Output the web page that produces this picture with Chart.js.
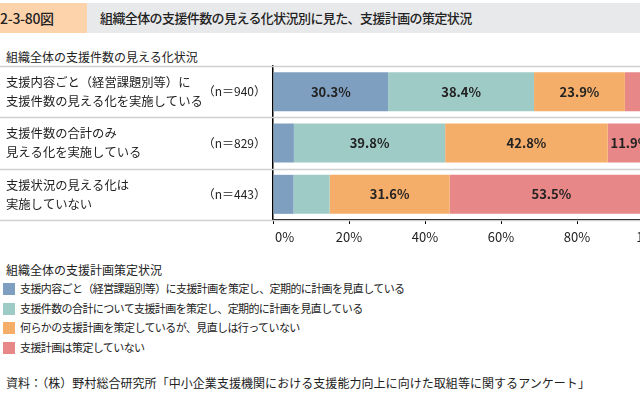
<!DOCTYPE html>
<html><head><meta charset="utf-8">
<script src="https://cdn.jsdelivr.net/npm/chart.js@4/dist/chart.umd.min.js"></script>
<style>
html,body{margin:0;padding:0;width:640px;height:394px;overflow:hidden;background:#fff;font-family:"Noto Sans CJK JP","Noto Sans",sans-serif;color:#222;}
#hdr{position:absolute;left:0;top:3px;width:640px;height:30px;background:#e8e9eb;}
#num{position:absolute;left:0;top:0;width:87px;height:30px;background:#fdd3ac;font-size:14px;font-weight:500;line-height:30px;letter-spacing:-0.3px;}
#ttl{position:absolute;left:100px;top:0;height:30px;line-height:30px;font-size:13px;font-weight:500;letter-spacing:-0.6px;}
.t{position:absolute;white-space:nowrap;font-size:12px;}
#wrap{position:absolute;left:0;top:40px;width:700px;height:210px;}
.lg{position:absolute;left:3px;width:12px;height:12px;}
</style></head><body>
<div id="hdr"><div id="num">2-3-80図</div><div id="ttl">組織全体の支援件数の見える化状況別に見た、支援計画の策定状況</div></div>
<div class="t" style="left:6px;top:48px;">組織全体の支援件数の見える化状況</div>
<div id="wrap"><canvas id="c" width="700" height="210"></canvas></div>
<div id="legend"></div>
<div class="t" style="left:6px;top:374px;letter-spacing:0.05px;">資料：（株）野村総合研究所「中小企業支援機関における支援能力向上に向けた取組等に関するアンケート」</div>
<script>
const categories = [
  ["支援内容ごと（経営課題別等）に","支援件数の見える化を実施している"],
  ["支援件数の合計のみ","見える化を実施している"],
  ["支援状況の見える化は","実施していない"]
];
const nLabels = ["（n＝940）","（n＝829）","（n＝443）"];
const seriesNames = [
  "支援内容ごと（経営課題別等）に支援計画を策定し、定期的に計画を見直している",
  "支援件数の合計について支援計画を策定し、定期的に計画を見直している",
  "何らかの支援計画を策定しているが、見直しは行っていない",
  "支援計画は策定していない"
];
const series1 = [30.3, 5.5, 5.4];
const series2 = [38.4, 39.8, 9.5];
const series3 = [23.9, 42.8, 31.6];
const series4 = [7.4, 11.9, 53.5];
const tickLabels = ["0%","20%","40%","60%","80%","100%"];
const colors = ["#7f9fc0","#9fcbc7","#f5ae6a","#e88788"];
const legendTitle = "組織全体の支援計画策定状況";

// legend (HTML)
const lg = document.getElementById('legend');
const lt = document.createElement('div'); lt.className='t'; lt.style.left='6px'; lt.style.top='261px'; lt.textContent=legendTitle; lg.appendChild(lt);
seriesNames.forEach((n,i)=>{
  const y = 283 + i*19.6;
  const sq=document.createElement('div'); sq.className='lg'; sq.style.top=y+'px'; sq.style.background=colors[i]; lg.appendChild(sq);
  const tx=document.createElement('div'); tx.className='t'; tx.style.left='20px'; tx.style.top=(y-3)+'px'; tx.style.fontSize='11px'; tx.style.letterSpacing='-0.6px'; tx.textContent=n; lg.appendChild(tx);
});

const FONT = '"Noto Sans CJK JP","Noto Sans",sans-serif';
const decor = {
  id:'decor',
  beforeDatasetsDraw(chart){
    const ctx=chart.ctx, y=chart.scales.y;
    ctx.save();
    ctx.strokeStyle='#d0d0d0'; ctx.lineWidth=1.5;
    for(let i=0;i<=categories.length;i++){
      const p = Math.round(y.getPixelForValue(i-0.5))+0.5;
      ctx.beginPath(); ctx.moveTo(0,p); ctx.lineTo(chart.width,p); ctx.stroke();
    }
    ctx.fillStyle='#222'; ctx.textBaseline='middle';
    categories.forEach((lines,i)=>{
      const c=y.getPixelForValue(i);
      ctx.font='12.3px '+FONT;
      ctx.textAlign='left';
      ctx.fillText(lines[0],6,c-9.5);
      ctx.fillText(lines[1],6,c+9.5);
      ctx.font='12px '+FONT;
      ctx.textAlign='right';
      ctx.fillText(nLabels[i],266,c);
    });
    ctx.restore();
  },
  afterDraw(chart){
    const ctx=chart.ctx, x=chart.scales.x;
    ctx.save();
    ctx.font='13px '+FONT; ctx.fillStyle='#222'; ctx.textBaseline='middle';
    tickLabels.forEach((t,i)=>{
      const px=x.getPixelForValue(i*20);
      if(i===0){ctx.textAlign='left'; ctx.fillText(t,px+2,x.top+17);}
      else {ctx.textAlign='center'; ctx.fillText(t,px,x.top+17);}
    });
    ctx.restore();
  },
  afterDatasetsDraw(chart){
    const ctx=chart.ctx;
    ctx.save();
    ctx.font='bold 13px '+FONT; ctx.fillStyle='#222'; ctx.textAlign='center'; ctx.textBaseline='middle';
    chart.data.datasets.forEach((ds,di)=>{
      chart.getDatasetMeta(di).data.forEach((bar,j)=>{
        const v=ds.data[j];
        if(v>=10){
          const cx=(bar.x+bar.base)/2;
          ctx.fillText(v.toFixed(1)+'%',cx,bar.y);
        }
      });
    });
    ctx.restore();
  }
};

new Chart(document.getElementById('c'),{
  type:'bar',
  data:{
    labels:categories.map(c=>c.join('')),
    datasets:[series1,series2,series3,series4].map((d,i)=>({label:seriesNames[i],data:d,backgroundColor:colors[i],borderWidth:0,categoryPercentage:1,barPercentage:0.76}))
  },
  options:{
    indexAxis:'y',responsive:false,animation:false,
    layout:{padding:{left:0,right:47,top:26,bottom:0}},
    plugins:{legend:{display:false},tooltip:{enabled:false}},
    scales:{
      x:{stacked:true,min:0,max:100,
        ticks:{stepSize:20,callback:()=>'',padding:0,maxRotation:0,autoSkip:false},
        grid:{display:true,drawOnChartArea:false,drawTicks:true,tickLength:4,color:'#000',lineWidth:1},
        border:{display:true,color:'#000',width:1.5},
        afterFit:s=>{s.height=30;}
      },
      y:{stacked:true,
        ticks:{display:false},
        grid:{display:false},
        border:{display:true,color:'#000',width:1.5},
        afterFit:s=>{s.width=273;}
      }
    }
  },
  plugins:[decor]
});
</script>
</body></html>
